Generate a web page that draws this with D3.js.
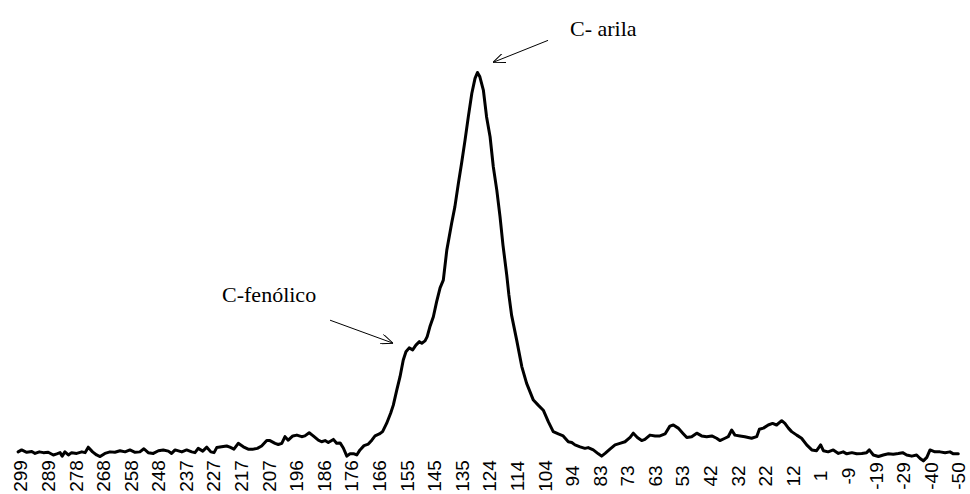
<!DOCTYPE html>
<html>
<head>
<meta charset="utf-8">
<script src="https://cdn.jsdelivr.net/npm/d3@7"></script>
<style>
  html, body { margin: 0; padding: 0; background: #fff; }
  svg { display: block; }
</style>
</head>
<body>
<svg id="chart" width="970" height="494"></svg>
<script>
// ---- data ----
const tickLabels = ["299","289","278","268","258","248","237","227","217","207","196","186","176","166","155","145","135","124","114","104","94","83","73","63","53","42","32","22","12","1","-9","-19","-29","-40","-50"];

const shift = [
299.7,298.4,296.5,294.6,293.4,291.8,290.3,288.5,286.6,285.3,284.1,283.3,282.3,281.0,279.8,277.9,276.0,274.8,273.6,272.0,
270.5,269.2,267.4,265.5,263.7,261.8,259.9,258.1,256.2,254.4,252.9,251.3,249.4,247.5,245.7,243.8,242.6,241.3,238.8,237.0,
235.1,233.9,232.7,231.0,229.5,228.0,226.8,225.8,224.0,222.1,220.9,219.4,217.8,215.9,214.1,212.2,210.7,209.1,207.2,206.0,
204.1,202.9,201.6,200.4,199.2,197.5,196.0,194.2,193.0,191.4,189.9,188.0,186.8,185.5,184.3,182.4,181.2,179.9,178.7,177.4,
176.2,174.7,173.7,172.5,171.0,169.4,168.1,166.9,165.3,164.1,162.6,161.1,160.1,158.8,157.6,156.4,155.4,154.2,152.9,151.7,
150.4,149.5,148.3,147.5,146.5,145.2,144.0,142.7,141.5,140.2,138.4,137.2,135.9,134.7,133.4,132.2,130.9,129.7,128.8,127.9,
126.6,125.4,124.1,122.9,121.6,120.4,119.3,117.9,117.1,116.1,114.2,112.3,110.5,108.0,106.2,104.3,102.4,100.6,98.7,96.9,
95.0,93.7,92.5,90.6,88.8,87.6,85.7,83.8,82.6,81.3,79.5,77.6,75.8,73.9,72.0,70.8,69.3,67.7,66.5,64.6,
62.7,60.9,59.0,57.2,55.9,54.1,52.4,50.9,49.1,47.2,45.4,43.5,41.6,39.8,38.6,36.7,35.5,34.2,33.0,31.1,
29.3,26.8,24.9,23.9,22.4,20.6,19.0,17.5,15.6,14.4,13.1,11.9,10.0,8.2,6.3,4.4,2.6,1.1,0.1,-1.7,
-3.6,-5.5,-7.3,-8.6,-10.5,-12.3,-14.2,-16.0,-17.0,-18.5,-20.4,-22.2,-24.1,-25.9,-27.8,-29.4,-30.9,-32.8,-34.6,-35.9,
-37.1,-38.4,-39.6,-41.4,-43.3,-45.2,-47.0,-48.3,-50.1
];

const intensity = [
2.6,3.1,2.5,2.7,2.2,2.6,2.4,2.5,1.8,2.1,2.4,1.5,2.6,1.8,2.4,2.2,2.6,2.4,3.8,2.6,
1.8,1.4,2.2,2.6,2.5,2.9,2.6,3.1,2.5,2.6,3.4,2.4,2.2,2.9,3.1,2.8,2.2,3.1,2.6,3.1,
2.6,2.4,3.5,2.8,3.8,2.6,2.4,3.7,3.9,4.1,3.8,3.3,4.8,3.9,3.3,3.3,3.5,4.1,5.5,5.5,
4.8,4.5,4.8,6.5,5.6,6.7,6.9,6.5,6.7,7.5,6.7,5.6,5.2,5.5,5.0,5.8,4.8,4.9,3.6,1.5,
2.1,2.1,1.8,3.1,4.2,4.6,5.6,6.7,7.2,7.8,9.9,12.5,14.6,18.5,21.9,26.2,28.3,29.3,28.8,30.0,
30.9,30.5,31.1,32.2,34.7,37.3,41.1,44.7,46.7,54.4,61.3,65.5,71.5,76.7,82.7,88.6,94.6,98.5,100.0,98.9,
95.5,88.6,83.5,75.8,69.8,63.0,55.7,48.0,42.9,37.7,31.3,24.5,20.2,15.9,14.6,13.3,10.3,7.8,7.2,6.7,
5.2,5.0,4.4,3.9,3.5,3.7,3.1,2.1,1.5,2.2,3.3,4.4,4.8,5.2,6.3,7.4,6.3,5.5,5.8,6.9,
6.7,6.7,7.2,9.2,9.5,8.7,7.4,6.3,6.5,7.4,6.7,6.5,6.7,6.1,5.5,6.1,6.5,8.2,6.9,6.7,
6.5,6.1,6.5,8.4,8.7,9.5,9.9,9.5,10.6,9.9,8.7,7.8,6.9,6.1,4.4,3.1,2.9,4.4,2.9,2.6,
3.1,2.2,2.6,2.1,2.4,2.1,2.2,2.4,3.1,1.8,1.4,1.8,2.1,2.0,2.2,2.4,1.8,1.5,1.8,0.9,
0.3,1.2,3.1,2.6,2.6,2.4,2.6,2.1,2.1
];

// annotations: label, the ppm / intensity the arrow points at
const annLabels = ["C- arila", "C-fenólico"];
const annShift = [123.0, 160.2];
const annIntensity = [102.6, 30.5];

// ---- layout ----
const W = 970, H = 494;
const x0 = 20, x1 = 958;           // plot span in px
const yBase = 462, yTop = 72.5;

const svg = d3.select("#chart");

const x = d3.scaleLinear().domain([299, -50]).range([x0, x1]);
const xAxisScale = d3.scalePoint().domain(tickLabels).range([x0, x1]);
const y = d3.scaleLinear().domain([0, 100]).range([yBase, yTop]);

const data = shift.map((s, i) => ({ s, v: intensity[i] }));

// axis (labels only, no line/ticks); labels rotated and centred
const axis = d3.axisBottom(xAxisScale).tickSize(0).tickPadding(0);
const gAxis = svg.append("g")
  .attr("transform", `translate(0, 476)`)
  .call(axis);
gAxis.select(".domain").remove();
gAxis.selectAll("text")
  .attr("transform", "rotate(-90)")
  .attr("text-anchor", "middle")
  .attr("x", 0)
  .attr("y", 0)
  .attr("dy", "0.36em")
  .style("font-family", "'Liberation Sans', Arial, sans-serif")
  .style("font-size", "19px")
  .attr("fill", "#000");

// spectrum line
const line = d3.line()
  .x(d => x(d.s))
  .y(d => y(d.v))
  .curve(d3.curveLinear);

svg.append("path")
  .datum(data)
  .attr("d", line)
  .attr("fill", "none")
  .attr("stroke", "#000")
  .attr("stroke-width", 3)
  .attr("stroke-linejoin", "round")
  .attr("stroke-linecap", "round");

// arrow marker
svg.append("defs").append("marker")
  .attr("id", "arr")
  .attr("viewBox", "0 0 12 10")
  .attr("refX", 12).attr("refY", 5)
  .attr("markerWidth", 12).attr("markerHeight", 10)
  .attr("markerUnits", "userSpaceOnUse")
  .attr("orient", "auto")
  .append("path")
  .attr("d", "M0,0 L12,5 L0,10")
  .attr("fill", "none")
  .attr("stroke", "#000")
  .attr("stroke-width", 1);

// annotation geometry (offsets from target)
const annTail = [[55, -22], [-63, -23]];
const annText = [[77, -26], [-171, -41]];

annLabels.forEach((lab, i) => {
  const tx = x(annShift[i]), ty = y(annIntensity[i]);
  svg.append("line")
    .attr("x1", tx + annTail[i][0]).attr("y1", ty + annTail[i][1])
    .attr("x2", tx).attr("y2", ty)
    .attr("stroke", "#000").attr("stroke-width", 1)
    .attr("marker-end", "url(#arr)");
  svg.append("text")
    .attr("x", tx + annText[i][0]).attr("y", ty + annText[i][1])
    .style("font-family", "'Liberation Serif', 'Times New Roman', serif")
    .style("font-size", "22px")
    .attr("fill", "#000")
    .text(lab);
});
</script>
</body>
</html>
